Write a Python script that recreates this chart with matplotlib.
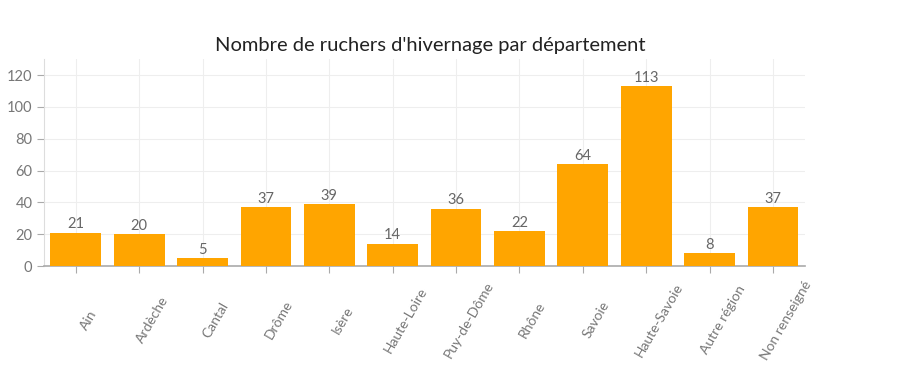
import matplotlib
matplotlib.use("Agg")
import matplotlib.pyplot as plt
import matplotlib.transforms as mtransforms

plt.rcParams['font.family'] = ['Lato', 'DejaVu Sans']

departements = ["Ain", "Ardèche", "Cantal", "Drôme", "Isère", "Haute-Loire",
                "Puy-de-Dôme", "Rhône", "Savoie", "Haute-Savoie", "Autre région",
                "Non renseigné"]
ruchers = [21, 20, 5, 37, 39, 14, 36, 22, 64, 113, 8, 37]
y_ticks = [0, 20, 40, 60, 80, 100, 120]

fig = plt.figure(figsize=(9.01, 3.79), dpi=100)
ax = fig.add_axes([0.049, 0.298, 0.844, 0.546])

x = list(range(len(departements)))
ax.bar(x, ruchers, width=0.8, color="#FFA500", zorder=3)

# value labels above the bars
for xi, v in zip(x, ruchers):
    ax.text(xi, v + 0.8, str(v), ha="center", va="bottom", fontsize=10.5,
            color="#666666", zorder=4)

ax.set_xlim(-0.5, len(departements) - 0.5)
ax.set_ylim(0, 130)
ax.set_yticks(y_ticks)
ax.set_xticks(x)
ax.set_xticklabels([])

# rotated category labels, centred below and right of each tick
base = ax.get_xaxis_transform()
offset = mtransforms.ScaledTranslation(13 / 100, -54 / 100, fig.dpi_scale_trans)
for xi, name in zip(x, departements):
    ax.text(xi, 0, name, transform=base + offset, rotation=60,
            ha="center", va="center", rotation_mode="anchor",
            fontsize=10, color="#777777", clip_on=False)

ax.tick_params(axis="y", labelsize=10.5, labelcolor="#777777", color="#aaaaaa",
               length=5, width=0.8)
ax.tick_params(axis="x", color="#aaaaaa", length=5, width=0.8)

ax.grid(True, color="#eeeeee", linewidth=0.8, zorder=0)
for side in ["top", "right"]:
    ax.spines[side].set_visible(False)
ax.spines["left"].set_color("#dddddd")
ax.spines["bottom"].set_color("#aaaaaa")
ax.spines["bottom"].set_linewidth(1.2)

fig.text(0.477, 0.88, "Nombre de ruchers d'hivernage par département",
         ha="center", va="center", fontsize=14.5, color="#222222")

fig.savefig("out.png", dpi=100)
